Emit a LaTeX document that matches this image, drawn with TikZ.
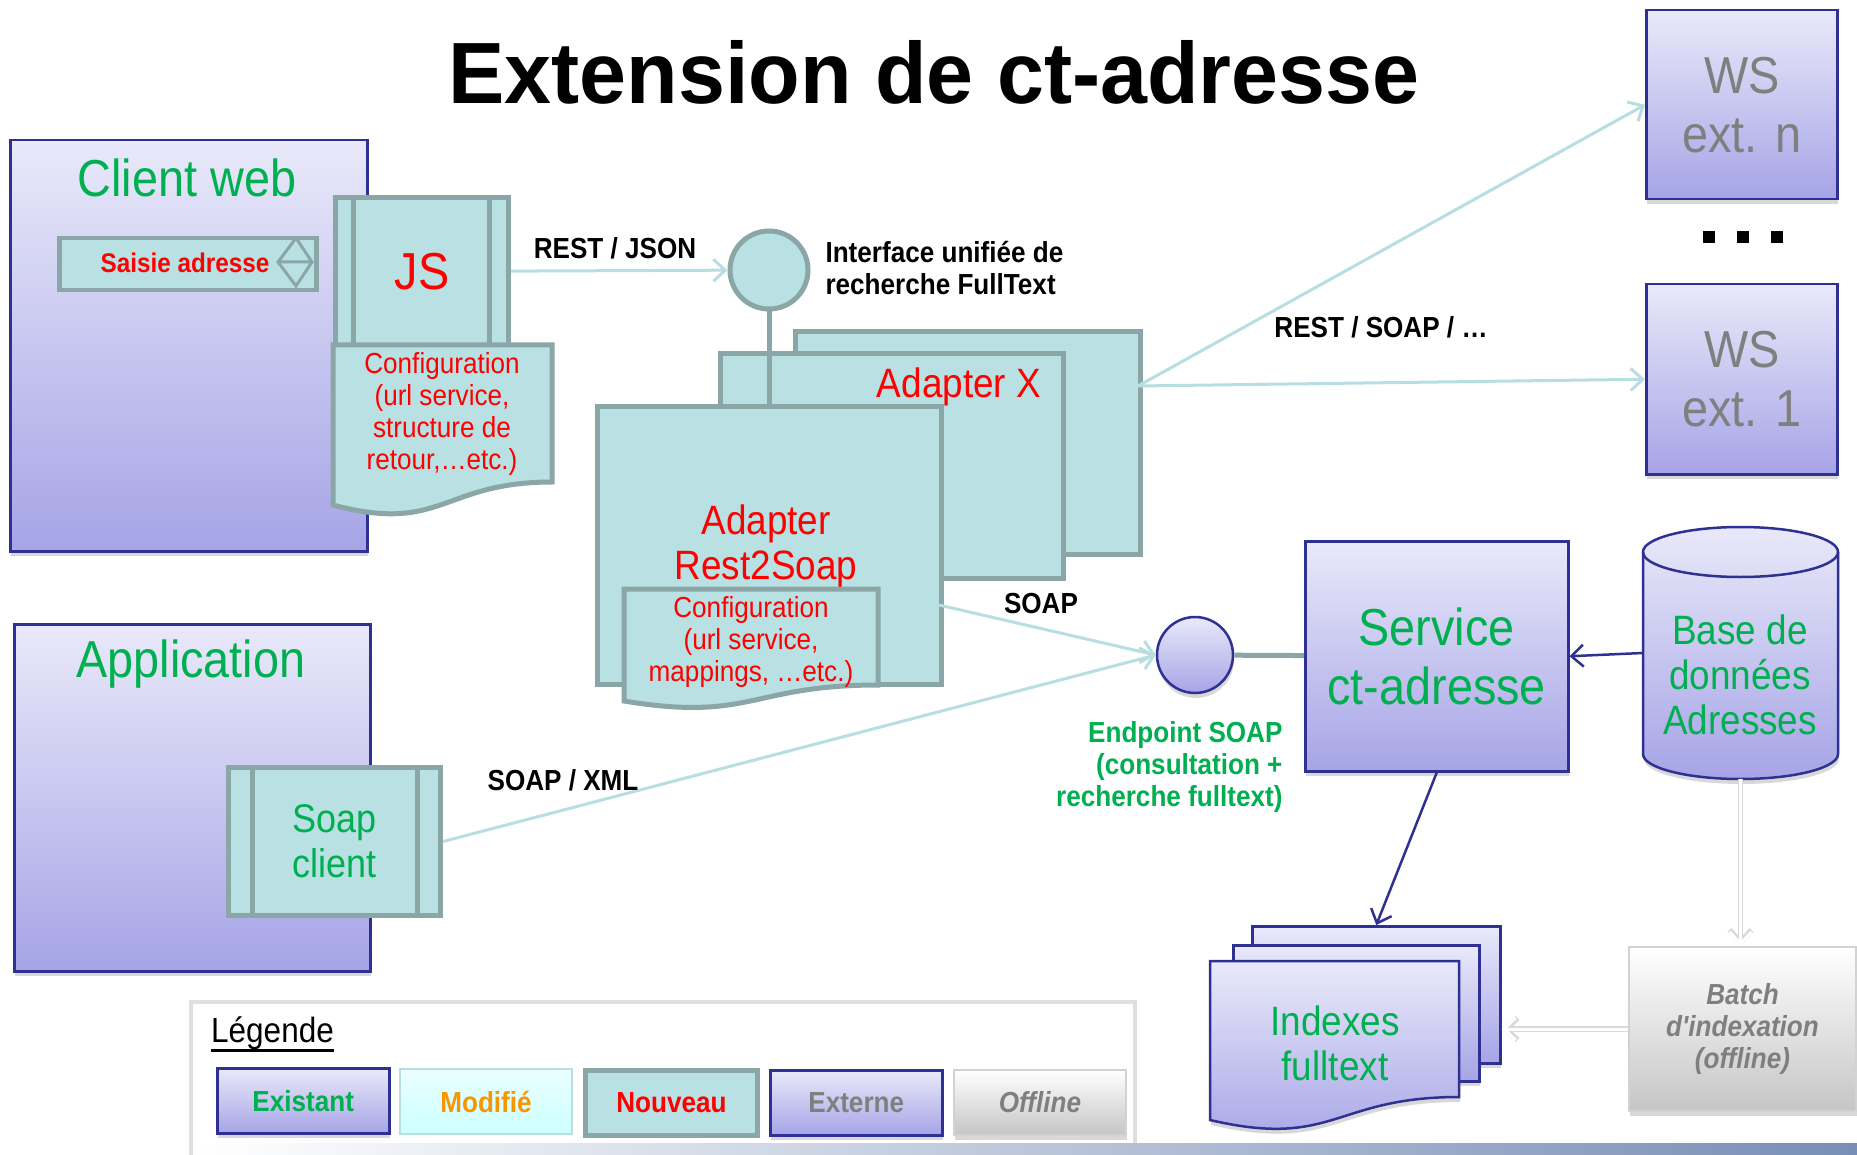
\documentclass[tikz,border=0pt]{standalone}
\usepackage{fontspec}
\setmainfont{Liberation Sans}[Ligatures=TeXOff,FakeStretch=0.9]
\newfontfamily\titlefont{Liberation Sans}[FakeStretch=0.97]
\usetikzlibrary{arrows.meta,shadows,positioning}

\definecolor{lavtop}{RGB}{233,233,250}
\definecolor{lavbot}{RGB}{166,164,230}
\definecolor{navy}{RGB}{46,49,146}
\definecolor{tealfill}{RGB}{185,224,227}
\definecolor{tealline}{RGB}{139,166,167}
\definecolor{linkteal}{RGB}{183,222,224}
\definecolor{okgreen}{RGB}{0,176,80}
\definecolor{txtgray}{RGB}{127,127,127}
\definecolor{modorange}{RGB}{247,150,0}
\definecolor{modtop}{RGB}{235,255,255}
\definecolor{modbot}{RGB}{204,255,255}
\definecolor{barblue}{RGB}{120,142,182}

\newcommand{\fsz}[2]{\fontsize{#1}{#2}\selectfont}

\tikzset{
  existing/.style={draw=navy, line width=2.5pt, top color=lavtop, bottom color=lavbot,
    drop shadow={shadow xshift=1pt, shadow yshift=-5pt, opacity=0.3}},
  newbox/.style={draw=tealline, line width=5pt, fill=tealfill},
  offbox/.style={draw=gray!35, line width=2pt, top color=white, bottom color=gray!45,
    drop shadow={shadow xshift=1pt, shadow yshift=-5pt, opacity=0.3}},
  box/.style={anchor=north west, inner sep=0pt, align=center},
  link/.style={draw=linkteal, line width=3pt, -{Straight Barb[length=12pt,width=22pt]}},
  navylink/.style={draw=navy, line width=2.5pt, -{Straight Barb[length=12pt,width=22pt]}},
  offlink/.style={draw=white, line width=3pt, -{Straight Barb[length=12pt,width=22pt]},
    preaction={draw=gray!30, line width=5.5pt}},
  lbl/.style={font=\bfseries\fsz{29}{32}},
  legbox/.style={box, minimum width=172pt, minimum height=65pt, font=\bfseries\fsz{29}{32}},
}

\begin{document}
\begin{tikzpicture}[x=1pt,y=-1pt]
  \fill[white] (0,0) rectangle (1857,1155);
  \useasboundingbox (0,0) rectangle (1857,1155);

  %%%%% TITLE %%%%%
  \node[font=\titlefont\bfseries\fsz{87}{90}, anchor=base] (title) at (934,104) {Extension de ct-adresse};

  %%%%% CLIENT WEB %%%%%
  \node[box, existing, minimum width=357pt, minimum height=411pt] (web) at (9,139) {};
  \node[font=\fsz{52}{60}, text=okgreen] (webtxt) at (187,178) {Client web};
  \node[box, newbox, line width=4.5pt, minimum width=257pt, minimum height=52pt] (saisie) at (57,236) {};
  \node[font=\bfseries\fsz{27}{30}, text=red] (saisietxt) at (185,263) {Saisie adresse};
  \draw[tealline, line width=3pt] (278,262) -- (296,238) -- (312,262) -- (296,286) -- cycle (278,262) -- (312,262);

  \node[box, newbox, minimum width=173pt, minimum height=148pt] (js) at (333,195) {};
  \draw[tealline, line width=5pt] ([xshift=20pt]js.north west) -- ([xshift=20pt]js.south west)
    ([xshift=-22pt]js.north east) -- ([xshift=-22pt]js.south east);
  \node[font=\fsz{52}{60}, text=red] (jstxt) at (js) {JS};

  \draw[newbox] (333,345) -- (552,345) -- (552,482) .. controls (442,482) and (442,534) .. (333,505) -- cycle;
  \node[font=\fsz{29}{32}, text=red, align=center] (webconf) at (442,414) {Configuration\\(url service,\\structure de\\retour,…etc.)};

  %%%%% INTERFACE %%%%%
  \node[circle, newbox, minimum size=78pt, inner sep=0pt] (iface) at (769,270) {};
  \node[lbl, anchor=west, align=left] (ifacetxt) at (822,268) {Interface unifiée de\\recherche FullText};
  \node[lbl] (restjson) at (615,248) {REST / JSON};
  \draw[link] (js) -- (iface);

  %%%%% ADAPTERS %%%%%
  \node[box, newbox, minimum width=345pt, minimum height=223pt] (adapt3) at (793,329) {};
  \node[box, newbox, minimum width=343pt, minimum height=225pt] (adaptx) at (718,351) {};
  \node[font=\fsz{41}{45}, text=red] (adaptxtxt) at (959,387) {Adapter X};
  \node[box, newbox, minimum width=344pt, minimum height=278pt] (adaptr) at (595,404) {};
  \node[font=\fsz{41}{45}, text=red, align=center] (adaptrtxt) at (766,546) {Adapter\\Rest2Soap};
  \draw[tealline, line width=5pt] (iface.south) -- (iface.south |- adaptr.north);

  \draw[newbox] (624,589) -- (878,589) -- (878,685) .. controls (751,685) and (751,722) .. (624,701) -- cycle;
  \node[font=\fsz{29}{32}, text=red, align=center] (adaptconf) at (751,642) {Configuration\\(url service,\\mappings, …etc.)};

  %%%%% WS EXTERNES %%%%%
  \node[box, existing, minimum width=191pt, minimum height=189pt, font=\fsz{52}{59}, text=txtgray] (wsn) at (1645,9) {WS\\ext. n};
  \foreach \dx in {1709,1743,1777} \fill (\dx-6,231) rectangle +(12,12);
  \node[box, existing, minimum width=191pt, minimum height=190pt, font=\fsz{52}{59}, text=txtgray] (ws1) at (1645,283) {WS\\ext. 1};
  \coordinate (fork) at (1138,386);
  \draw[link] (fork) -- (wsn.west);
  \draw[link] (fork) -- (ws1.west);
  \node[lbl] (restsoap) at (1381,327) {REST / SOAP / …};

  %%%%% APPLICATION %%%%%
  \node[box, existing, minimum width=356pt, minimum height=347pt] (app) at (13,623) {};
  \node[font=\fsz{52}{60}, text=okgreen] (apptxt) at (191,664) {Application};
  \node[box, newbox, minimum width=212pt, minimum height=148pt] (sc) at (226,765) {};
  \draw[tealline, line width=5pt] ([xshift=26pt]sc.north west) -- ([xshift=26pt]sc.south west)
    ([xshift=-26pt]sc.north east) -- ([xshift=-26pt]sc.south east);
  \node[font=\fsz{40}{45}, text=okgreen, align=center] (sctxt) at (sc) {Soap\\client};

  %%%%% SERVICE %%%%%
  \node[circle, existing, minimum size=76pt, inner sep=0pt] (endpt) at (1195,655) {};
  \node[box, existing, minimum width=263pt, minimum height=230pt, font=\fsz{52}{59}, text=okgreen] (svc) at (1304,540) {Service\\ct-adresse};
  \draw[tealline, line width=5pt] (endpt) -- (svc);
  \node[lbl, text=okgreen, anchor=east, align=right] (endpttxt) at (1286,767) {Endpoint SOAP\\(consultation +\\recherche fulltext)};
  \coordinate (soapout) at (939,605);
  \draw[link] (soapout) -- (endpt.west);
  \draw[link] (sc.east) -- (endpt.west);
  \node[lbl] (soaptxt) at (1041,604) {SOAP};
  \node[lbl] (soapxml) at (563,780) {SOAP / XML};

  %%%%% BASE %%%%%
  \path[existing] (1643,552) -- (1643,754) arc (180:0:97.5 and 25) -- (1838,552) arc (0:-180:97.5 and 25) -- cycle;
  \draw[navy, line width=2.5pt] (1643,552) arc (180:0:97.5 and 25);
  \node[minimum width=195pt, minimum height=252pt] (db) at (1740.5,653) {};
  \node[font=\fsz{41}{45}, text=okgreen, align=center] (dbtxt) at (1740,675) {Base de\\données\\Adresses};
  \draw[navylink] (db.west) -- (svc.east);

  %%%%% INDEXES %%%%%
  \node[box, existing, minimum width=248pt, minimum height=137pt] (idxb) at (1251,925) {};
  \node[box, existing, minimum width=246pt, minimum height=136pt] (idxm) at (1232,944) {};
  \path[existing] (1210,961) -- (1459,961) -- (1459,1097) .. controls (1334,1097) and (1334,1149) .. (1210,1120) -- cycle;
  \node[font=\fsz{41}{45}, text=okgreen, align=center] (idxtxt) at (1335,1043) {Indexes\\fulltext};
  \draw[navylink] (svc.south) -- (idxb.north);

  \node[box, offbox, minimum width=227pt, minimum height=164pt, font=\bfseries\itshape\fsz{29}{32}, text=txtgray] (batch) at (1628,946) {Batch\\d'indexation\\(offline)};
  \draw[offlink] (db.south) -- (db.south |- batch.north);
  \draw[offlink] (batch.west) -- (batch.west -| idxb.east);

  %%%%% LEGENDE %%%%%
  \draw[gray!25, line width=4pt, fill=white] (191,1002) rectangle (1135,1175);
  \shade[left color=white, right color=barblue] (195,1143) rectangle (1857,1155);
  \node[anchor=base west, inner sep=0pt, font=\fsz{35}{40}] (legtitle) at (211,1042) {Légende};
  \draw[line width=3pt] ([yshift=-8pt]legtitle.base west) -- ([yshift=-8pt]legtitle.base east);
  \node[legbox, existing, text=okgreen] (lexist) at (216,1067) {Existant};
  \node[legbox, draw=linkteal, line width=2pt, top color=modtop, bottom color=modbot, text=modorange] (lmod) at (399,1068) {Modifié};
  \node[legbox, newbox, text=red] (lnew) at (583,1068) {Nouveau};
  \node[legbox, existing, text=txtgray] (lext) at (769,1069) {Externe};
  \node[legbox, offbox, text=txtgray, font=\bfseries\itshape\fsz{29}{32}] (loff) at (953,1069) {Offline};
\end{tikzpicture}
\end{document}
